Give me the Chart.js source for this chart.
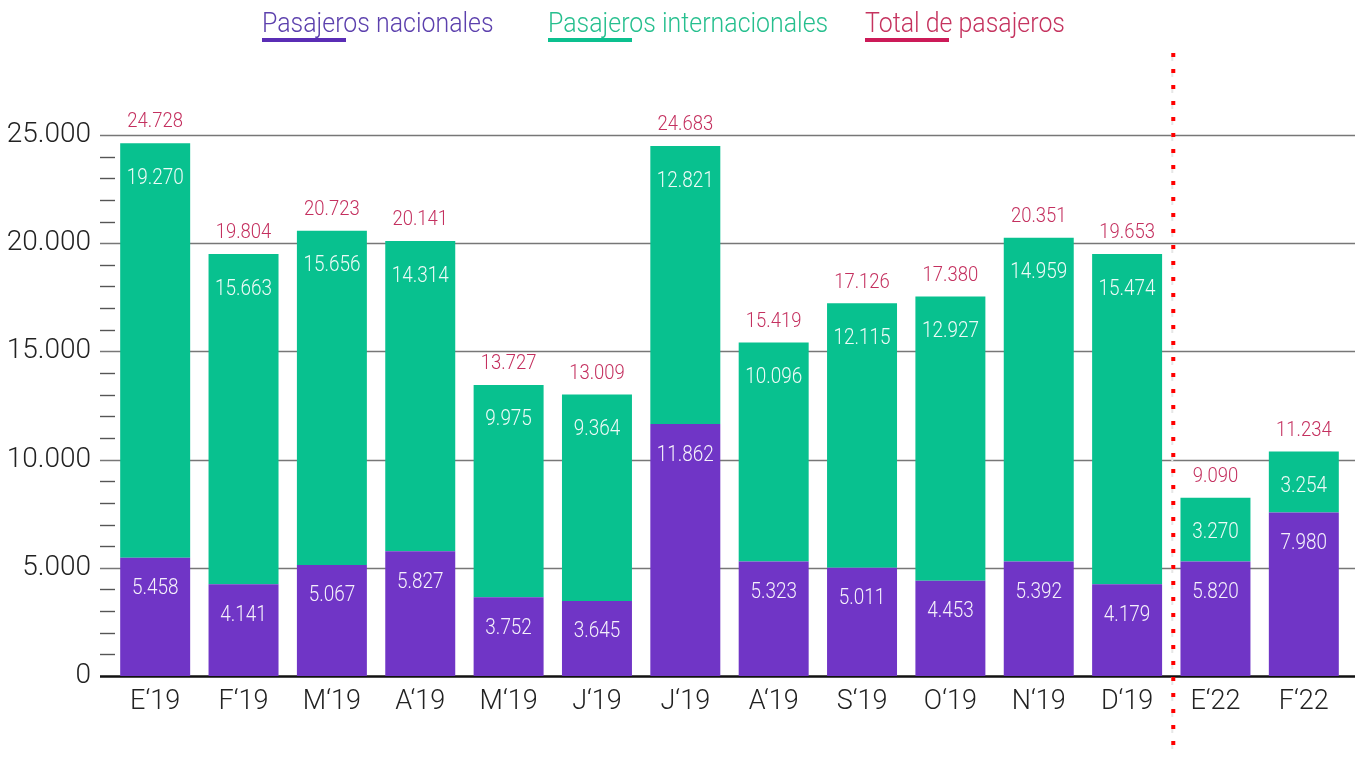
<!DOCTYPE html>
<html>
<head>
<meta charset="utf-8">
<script src="https://cdn.jsdelivr.net/npm/chart.js@4.4.1/dist/chart.umd.min.js"></script>
<style>
  html, body { margin: 0; padding: 0; background: #fff; }
  #wrap { width: 1359px; height: 757px; position: relative; }
</style>
</head>
<body>
<div id="wrap"><canvas id="pasajerosChart"></canvas></div>
<script>
// meses (E'19 ... F'22)
const categorias = ["E\u201819", "F\u201819", "M\u201819", "A\u201819", "M\u201819", "J\u201819", "J\u201819",
    "A\u201819", "S\u201819", "O\u201819", "N\u201819", "D\u201819", "E\u201822", "F\u201822"];

// alturas de las barras
const nacionales = [5460, 4240, 5130, 5770, 3640, 3470, 11640, 5290, 5000, 4400, 5290, 4240, 5290, 7560];
const internacionales = [19160, 15260, 15440, 14330, 9810, 9540, 12850, 10120, 12220, 13140, 14960, 15260, 2950, 2820];

// cifras que se muestran como etiquetas
const etiquetaNac = [5458, 4141, 5067, 5827, 3752, 3645, 11862, 5323, 5011, 4453, 5392, 4179, 5820, 7980];
const etiquetaInt = [19270, 15663, 15656, 14314, 9975, 9364, 12821, 10096, 12115, 12927, 14959, 15474, 3270, 3254];
const etiquetaTotal = [24728, 19804, 20723, 20141, 13727, 13009, 24683, 15419, 17126, 17380, 20351, 19653, 9090, 11234];

const yTicks = [0, 5000, 10000, 15000, 20000, 25000];

const colorNac = "#7035c6";
const colorInt = "#08c18f";
const colorTotal = "#c4305f";

function fmt(n) {
    return String(n).replace(/\B(?=(\d{3})+(?!\d))/g, ".");
}

// texto algo estrecho, como la fuente condensada del original
function narrowText(ctx, text, x, y, sx) {
    ctx.save();
    ctx.translate(x, y);
    ctx.scale(sx, 1);
    ctx.fillText(text, 0, 0);
    ctx.restore();
}

const extras = {
    id: "extras",
    beforeDatasetsDraw(chart) {
        const ctx = chart.ctx;
        const y = chart.scales.y;
        ctx.save();
        for (let v = 0; v <= 25000; v += 1000) {
            const py = Math.round(y.getPixelForValue(v)) + 0.5;
            ctx.beginPath();
            if (v % 5000 == 0) {
                ctx.strokeStyle = v == 0 ? "#111" : "#777";
                ctx.lineWidth = v == 0 ? 2.5 : 1.6;
                ctx.moveTo(100, py);
                ctx.lineTo(1355, py);
            } else {
                ctx.strokeStyle = "#555";
                ctx.lineWidth = 1.4;
                ctx.moveTo(100, py);
                ctx.lineTo(115, py);
            }
            ctx.stroke();
        }
        ctx.restore();
    },
    afterDatasetsDraw(chart) {
        const ctx = chart.ctx;
        const m0 = chart.getDatasetMeta(0);
        const m1 = chart.getDatasetMeta(1);
        const x = chart.scales.x;
        ctx.save();
        ctx.textAlign = "center";
        ctx.textBaseline = "middle";
        for (let i = 0; i < categorias.length; i++) {
            const b0 = m0.data[i];
            const b1 = m1.data[i];
            ctx.fillStyle = "rgba(255,255,255,0.93)";
            ctx.font = "300 22px Roboto";
            narrowText(ctx, fmt(etiquetaNac[i]), b0.x, b0.y + 31, 0.86);
            narrowText(ctx, fmt(etiquetaInt[i]), b1.x, b1.y + 35, 0.86);
            ctx.fillStyle = colorTotal;
            ctx.font = "300 21px Roboto";
            narrowText(ctx, fmt(etiquetaTotal[i]), b1.x, b1.y - 21, 0.88);
        }

        // separador 2019 / 2022
        const sx = (x.getPixelForValue(11) + x.getPixelForValue(12)) / 2 + 2;
        ctx.beginPath();
        ctx.setLineDash([8, 8]);
        ctx.strokeStyle = "#e6e6e6";
        ctx.lineWidth = 2;
        ctx.moveTo(sx - 1, 53);
        ctx.lineTo(sx - 1, 757);
        ctx.stroke();
        ctx.beginPath();
        ctx.setLineDash([4, 12]);
        ctx.strokeStyle = "#ff0000";
        ctx.lineWidth = 4;
        ctx.moveTo(sx, 53);
        ctx.lineTo(sx, 757);
        ctx.stroke();
        ctx.setLineDash([]);

        // leyenda
        const items = [
            ["Pasajeros nacionales", 262, "#5c40ad", "#5a2db5"],
            ["Pasajeros internacionales", 548, "#26bf8e", "#0cc08f"],
            ["Total de pasajeros", 865, "#c5335f", "#cc1a58"]
        ];
        ctx.textAlign = "left";
        ctx.textBaseline = "alphabetic";
        ctx.font = "300 28px Roboto";
        items.forEach(([t, lx, tc, lc]) => {
            ctx.fillStyle = tc;
            narrowText(ctx, t, lx, 32, 0.89);
            ctx.fillStyle = lc;
            ctx.fillRect(lx, 38, 84, 4);
        });
        ctx.restore();
    }
};

const ctx = document.getElementById("pasajerosChart").getContext("2d");
const pasajerosChart = new Chart(ctx, {
    type: "bar",
    data: {
        labels: categorias,
        datasets: [{
            label: "Pasajeros nacionales",
            data: nacionales,
            backgroundColor: colorNac,
            barPercentage: 0.792,
            categoryPercentage: 1
        }, {
            label: "Pasajeros internacionales",
            data: internacionales,
            backgroundColor: colorInt,
            barPercentage: 0.792,
            categoryPercentage: 1
        }]
    },
    options: {
        responsive: true,
        maintainAspectRatio: false,
        animation: false,
        layout: { padding: { top: 135, right: 11, left: 0, bottom: 0 } },
        plugins: {
            legend: { display: false },
            tooltip: { enabled: false }
        },
        scales: {
            x: {
                stacked: true,
                grid: { display: false, drawTicks: false },
                border: { display: false },
                ticks: { color: "#222", padding: 10, font: { family: "Roboto", size: 27, weight: "300" } },
                afterFit: (s) => { s.height = 81; }
            },
            y: {
                stacked: true,
                min: 0,
                max: 25000,
                afterBuildTicks: (s) => { s.ticks = yTicks.map(v => ({ value: v })); },
                grid: { display: false, drawTicks: false },
                border: { display: false },
                ticks: {
                    color: "#222",
                    padding: 20,
                    font: { family: "Roboto", size: 28, weight: "300" },
                    callback: (v) => fmt(v)
                },
                afterFit: (s) => { s.width = 111; }
            }
        }
    },
    plugins: [extras]
});
</script>
</body>
</html>
